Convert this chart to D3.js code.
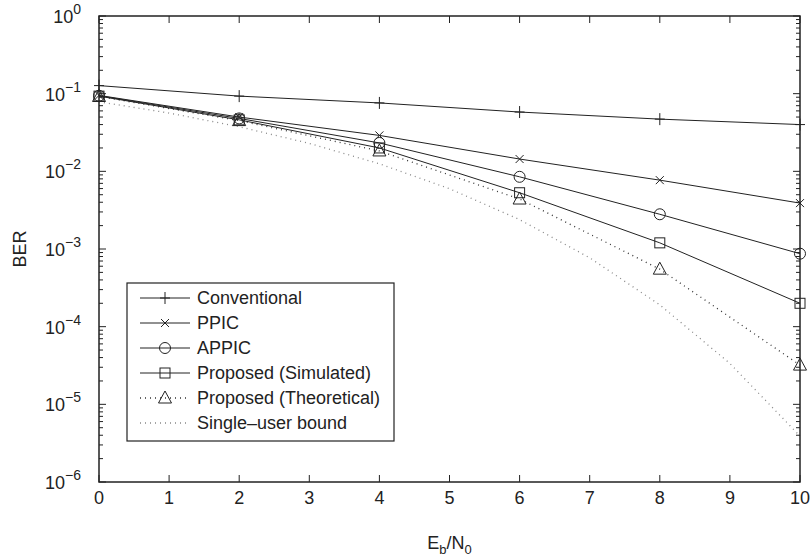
<!DOCTYPE html>
<html>
<head>
<meta charset="utf-8">
<script src="https://cdn.jsdelivr.net/npm/d3@7"></script>
<style>
  body { margin: 0; background: #fff; }
  text { font-family: "Liberation Sans", Arial, sans-serif; fill: #222; }
</style>
</head>
<body>
<svg id="plot" width="810" height="560"></svg>
<script>
const snr = [0, 2, 4, 6, 8, 10]
const conventional = [0.127, 0.093, 0.076, 0.058, 0.047, 0.040]
const ppic = [0.095, 0.050, 0.029, 0.0144, 0.0077, 0.0039]
const appic = [0.094, 0.048, 0.0232, 0.0085, 0.0028, 0.00087]
const propSim = [0.093, 0.046, 0.020, 0.0053, 0.0012, 0.0002]
const propTheo = [0.092, 0.045, 0.0183, 0.0044, 0.00055, 0.000032]
const singleSnr = [0, 1, 2, 3, 4, 5, 6, 7, 8, 9, 10]
const singleUser = [0.0786, 0.0563, 0.0375, 0.0229, 0.0125, 0.00597, 0.00239, 0.00077, 0.000191, 0.0000336, 0.0000039]
const xTicks = [0, 1, 2, 3, 4, 5, 6, 7, 8, 9, 10]
const yTicks = [1e-6, 1e-5, 1e-4, 1e-3, 1e-2, 1e-1, 1]
const legendLabels = ["Conventional", "PPIC", "APPIC", "Proposed (Simulated)", "Proposed (Theoretical)", "Single\u2013user bound"]

width = 810
height = 560
margin = ({ top: 16, right: 10, bottom: 78, left: 99 })

x = d3.scaleLinear()
    .domain([0, 10])
    .range([margin.left, width - margin.right])

y = d3.scaleLog()
    .domain([1e-6, 1])
    .range([height - margin.bottom, margin.top])

const ink = "#222"
const svg = d3.select("#plot")

// minor ticks for log axis
const minors = []
for (let e = -6; e < 0; e++)
    for (let m = 2; m <= 9; m++) minors.push(m * Math.pow(10, e))

const frame = svg.append("g")

// left + right axes, ticks inward
function yAxisAt(side) {
    const g = frame.append("g")
    const x0 = side === "left" ? x(0) : x(10)
    const dir = side === "left" ? 1 : -1
    g.selectAll(".maj").data(yTicks).join("line")
        .attr("x1", x0).attr("x2", x0 + dir * 7)
        .attr("y1", d => y(d)).attr("y2", d => y(d))
        .attr("stroke", ink)
    g.selectAll(".min").data(minors).join("line")
        .attr("x1", x0).attr("x2", x0 + dir * 4)
        .attr("y1", d => y(d)).attr("y2", d => y(d))
        .attr("stroke", ink)
}
yAxisAt("left")
yAxisAt("right")

// top + bottom ticks
const xt = frame.append("g")
xt.selectAll(".b").data(xTicks).join("line")
    .attr("x1", d => x(d)).attr("x2", d => x(d))
    .attr("y1", y(1e-6)).attr("y2", y(1e-6) - 7)
    .attr("stroke", ink)
xt.selectAll(".t").data(xTicks).join("line")
    .attr("x1", d => x(d)).attr("x2", d => x(d))
    .attr("y1", y(1)).attr("y2", y(1) + 7)
    .attr("stroke", ink)

// x tick labels
svg.append("g").selectAll("text").data(xTicks).join("text")
    .attr("x", d => x(d))
    .attr("y", y(1e-6) + 22)
    .attr("text-anchor", "middle")
    .attr("font-size", 18)
    .text(d => d)

// y tick labels with superscript
const yl = svg.append("g").selectAll("text").data(yTicks).join("text")
    .attr("y", d => y(d) + 7)
    .attr("text-anchor", "start")
    .attr("font-size", 18)
yl.append("tspan").text("10")
yl.append("tspan")
    .attr("dy", -9)
    .attr("font-size", 14)
    .text(d => { const e = Math.round(Math.log10(d)); return e < 0 ? "\u2212" + (-e) : e })
yl.attr("x", function(d) { return x(0) - 18 - this.getComputedTextLength() })

// axis titles
const xt2 = svg.append("text")
    .attr("x", (x(0) + x(10)) / 2)
    .attr("y", 549)
    .attr("text-anchor", "middle")
    .attr("font-size", 18)
xt2.append("tspan").text("E")
xt2.append("tspan").attr("dy", 5).attr("font-size", 13).text("b")
xt2.append("tspan").attr("dy", -5).text("/N")
xt2.append("tspan").attr("dy", 5).attr("font-size", 13).text("0")

svg.append("text")
    .attr("transform", `translate(26,${(y(1) + y(1e-6)) / 2}) rotate(-90)`)
    .attr("text-anchor", "middle")
    .attr("font-size", 18)
    .text("BER")

// series
const series = [
    { name: legendLabels[0], xs: snr, ys: conventional, marker: "plus", dash: null, color: ink },
    { name: legendLabels[1], xs: snr, ys: ppic, marker: "cross", dash: null, color: ink },
    { name: legendLabels[2], xs: snr, ys: appic, marker: "circle", dash: null, color: ink },
    { name: legendLabels[3], xs: snr, ys: propSim, marker: "square", dash: null, color: ink },
    { name: legendLabels[4], xs: snr, ys: propTheo, marker: "triangle", dash: "1,4", color: "#333" },
    { name: legendLabels[5], xs: singleSnr, ys: singleUser, marker: null, dash: "1,4", color: "#888" }
]

const line = d3.line()
    .x(d => x(d[0]))
    .y(d => y(d[1]))

function drawMarker(g, type, cx, cy) {
    const s = g.append("g").attr("transform", `translate(${cx},${cy})`)
        .attr("fill", "none").attr("stroke", ink).attr("stroke-width", 1)
    if (type === "plus") {
        s.append("path").attr("d", "M-5,0H5M0,-6V6")
    } else if (type === "cross") {
        s.append("path").attr("d", "M-4,-4L4,4M-4,4L4,-4")
    } else if (type === "circle") {
        s.append("circle").attr("r", 5.5)
    } else if (type === "square") {
        s.append("rect").attr("x", -5).attr("y", -5).attr("width", 10).attr("height", 10)
    } else if (type === "triangle") {
        s.append("path").attr("d", "M0,-7L6.5,5H-6.5Z")
    }
}

const plot = svg.append("g")
series.slice().reverse().forEach(s => {
    const pts = s.xs.map((v, i) => [v, s.ys[i]])
    plot.append("path")
        .datum(pts)
        .attr("fill", "none")
        .attr("stroke", s.color)
        .attr("stroke-width", s.dash ? 1.3 : 1)
        .attr("stroke-dasharray", s.dash)
        .attr("d", line)
    if (s.marker) pts.forEach(p => drawMarker(plot, s.marker, x(p[0]), y(p[1])))
})

// frame box
svg.append("rect")
    .attr("x", x(0)).attr("y", y(1))
    .attr("width", x(10) - x(0)).attr("height", y(1e-6) - y(1))
    .attr("fill", "none").attr("stroke", ink).attr("stroke-width", 1.5)

// legend
const lg = svg.append("g")
lg.append("rect")
    .attr("x", 127).attr("y", 283)
    .attr("width", 267).attr("height", 158)
    .attr("fill", "#fff").attr("stroke", ink).attr("stroke-width", 1.2)
series.forEach((s, i) => {
    const ly = 298 + i * 25
    lg.append("line")
        .attr("x1", 140).attr("x2", 190)
        .attr("y1", ly).attr("y2", ly)
        .attr("stroke", s.color)
        .attr("stroke-width", s.dash ? 1.3 : 1)
        .attr("stroke-dasharray", s.dash)
    if (s.marker) drawMarker(lg, s.marker, 165, ly)
    lg.append("text")
        .attr("x", 197).attr("y", ly + 6)
        .attr("font-size", 18)
        .text(s.name)
})
</script>
</body>
</html>
